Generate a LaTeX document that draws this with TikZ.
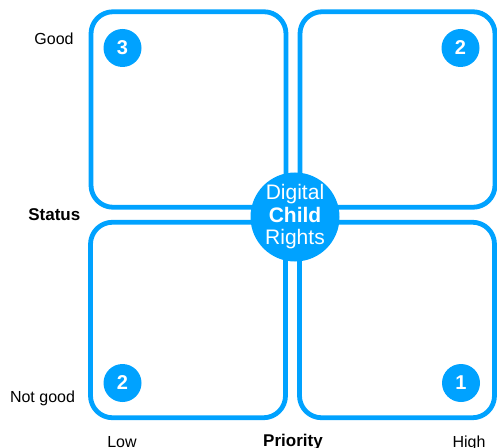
\documentclass[tikz,border=0pt]{standalone}
\usepackage{fontspec}
\setmainfont{Liberation Sans}
\definecolor{cblue}{RGB}{0,162,255}
\begin{document}
\begin{tikzpicture}[x=1bp,y=-1bp,
  quad/.style={draw=cblue,line width=4.8bp,rounded corners=22bp,inner sep=0pt,
    minimum width=195bp,minimum height=195.5bp},
  num/.style={circle,fill=cblue,text=white,inner sep=0pt,minimum size=38bp,
    font=\fontsize{20bp}{22bp}\selectfont\bfseries},
  hub/.style={circle,fill=cblue,text=white,inner sep=0pt,minimum size=89bp,align=center,
    font=\fontsize{21bp}{22.5bp}\selectfont},
  lab/.style={font=\fontsize{16bp}{18bp}\selectfont,inner sep=0pt},
  blab/.style={font=\fontsize{17bp}{19bp}\selectfont\bfseries,inner sep=0pt}]
\useasboundingbox (0,0) rectangle (497,448);
\node[quad] (tl) at (188.5,109.5) {};
\node[quad] (tr) at (397.5,109.5) {};
\node[quad] (bl) at (188,320) {};
\node[quad] (br) at (397,320) {};
\node[hub] (hub) at (295,217) {Digital\\\textbf{Child}\\Rights};
\node[num] (n3) at (122.5,48) {3};
\node[num] (n2a) at (460.5,48) {2};
\node[num] (n2b) at (122.5,383) {2};
\node[num] (n1) at (461,383) {1};
\node[lab,anchor=base] (good) at (54,45) {Good};
\node[blab,anchor=base] (status) at (54.3,220.5) {Status};
\node[lab,anchor=base] (notgood) at (42.5,402.5) {Not good};
\node[lab,anchor=base] (low) at (122,447.5) {Low};
\node[blab,anchor=base] (prio) at (293,446.5) {Priority};
\node[lab,anchor=base] (high) at (469,447.5) {High};
\end{tikzpicture}
\end{document}
